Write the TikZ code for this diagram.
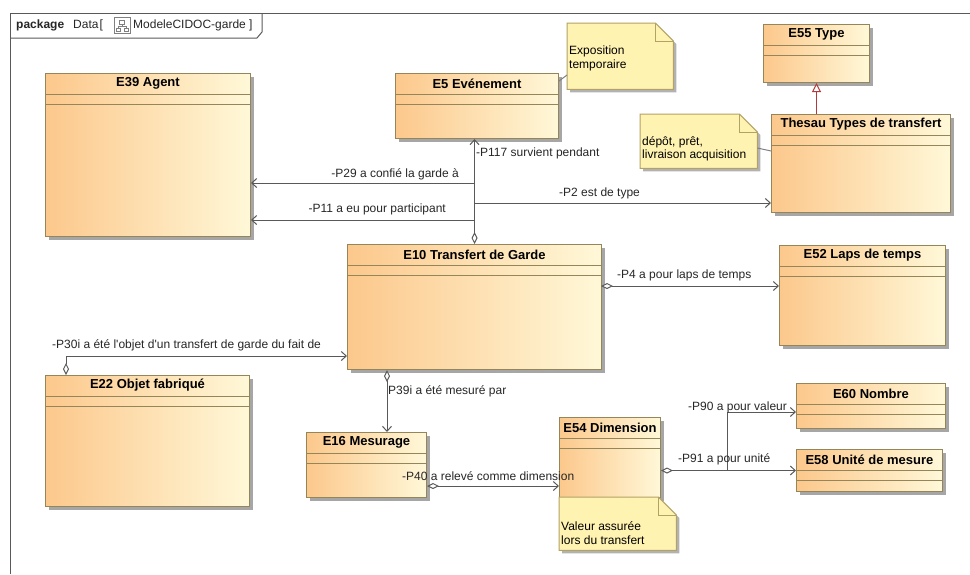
\documentclass[tikz,border=0pt]{standalone}
\usepackage{fontspec}
\setmainfont{Liberation Sans}
\usetikzlibrary{arrows.meta, shadows}

\definecolor{classdark}{HTML}{FCC88C}
\definecolor{classlight}{HTML}{FFF8D8}
\definecolor{classborder}{HTML}{958659}
\definecolor{notefill}{HTML}{FFF3B2}
\definecolor{noteborder}{HTML}{B3A266}
\definecolor{linkgray}{HTML}{595959}
\definecolor{genred}{HTML}{B23A3A}

\tikzstyle{umlclass} = [rectangle, anchor=north west, inner sep=0pt, draw=classborder, line width=1pt, left color=classdark, right color=classlight, drop shadow={shadow xshift=3pt, shadow yshift=-3pt, fill=black!35, opacity=1}]
\tikzstyle{classtitle} = [font=\fontsize{13}{15}\selectfont\bfseries, inner sep=0pt]
\tikzstyle{classline} = [draw=classborder, line width=1pt]
\tikzstyle{umlnote} = [rectangle, anchor=north west, inner sep=0pt]
\tikzstyle{notetext} = [font=\fontsize{12}{13.5}\selectfont, align=left, anchor=west, inner sep=0pt]
\tikzstyle{lbl} = [font=\fontsize{12}{14}\selectfont, inner sep=0pt, text=black!85]
\tikzstyle{link} = [draw=linkgray, line width=1pt]
\tikzstyle{assoc} = [link, {Diamond[open, fill=white, length=12pt, width=6pt]}-{Straight Barb[length=5pt, width=9pt]}]
\tikzstyle{navig} = [link, -{Straight Barb[length=5pt, width=9pt]}]
\tikzstyle{notelink} = [draw=gray, line width=1pt]
\tikzstyle{generalization} = [draw=genred, line width=1pt, -{Triangle[open, fill=white, length=9pt, width=9pt]}]
\tikzstyle{framel} = [draw=black!65, line width=1pt]

\newcommand{\notefold}[1]{%
  \filldraw[fill=notefill, draw=noteborder, line width=1pt, drop shadow={shadow xshift=3pt, shadow yshift=-3pt, fill=black!30, opacity=1}]
    (#1.north west) -- ([xshift=-18pt]#1.north east) -- ([yshift=-18pt]#1.north east) -- (#1.south east) -- (#1.south west) -- cycle;
  \draw[draw=noteborder, line width=1pt] ([xshift=-18pt]#1.north east) |- ([yshift=-18pt]#1.north east);}

\begin{document}
\begin{tikzpicture}[x=1pt, y=-1pt]
  \useasboundingbox (0,0) rectangle (970,574);

  % package frame
  \draw[framel] (970,13) -- (10,13) -- (10,574);
  \draw[framel] (10,38) -- (257,38) -- (262,32) -- (262,13);
  \node (tab-l) [lbl, anchor=west] at (16,25) {\textbf{package}\hspace{9pt}Data\hspace{1pt}[};
  \node (tab-r) [lbl, anchor=west] at (133,25) {ModeleCIDOC-garde ]};
  \draw[gray, line width=0.8pt] (114,17) rectangle (130,33);
  \draw[gray, line width=0.6pt] (119.5,20) rectangle (124.5,24) (116,28) rectangle (120,31) (124,28) rectangle (128,31)
    (122,24) -- (122,26) (118,26) -- (126,26) (118,26) -- (118,28) (126,26) -- (126,28);

  % classes
  \foreach \n/\x/\y/\w/\h/\t in {agent/45/73/205/163/E39 Agent,
      event/395/73/163/65/E5 Evénement,
      type/763/24/106/58/E55 Type,
      thes/771/114/179/98/Thesau Types de transfert,
      trans/347/244/254/125/E10 Transfert de Garde,
      laps/779/245/166/100/E52 Laps de temps,
      objet/45/375/204/131/E22 Objet fabriqué,
      mesur/306/432/120/65/E16 Mesurage,
      dim/559/417/101/80/E54 Dimension,
      nombre/796/383/149/45/E60 Nombre,
      unite/796/449/146/42/E58 Unité de mesure} {
    \node (\n) [umlclass, minimum width=\w, minimum height=\h] at (\x,\y) {};
    \draw[classline] ([yshift=-21pt]\n.north west) -- ([yshift=-21pt]\n.north east);
    \draw[classline] ([yshift=-31pt]\n.north west) -- ([yshift=-31pt]\n.north east);
    \node (\n-t) [classtitle] at ([yshift=-10.5pt]\n.north) {\t};
  }

  % notes
  \node (expo) [umlnote, minimum width=106, minimum height=66] at (567,23) {};
  \node (depot) [umlnote, minimum width=117, minimum height=54] at (640,114) {};
  \node (valeur) [umlnote, minimum width=117, minimum height=53] at (559,497) {};
  \foreach \n in {expo,depot,valeur} {\notefold{\n}}
  \node (expo-t) [notetext] at (569,58.5) {Exposition\\temporaire};
  \node (depot-t) [notetext] at (642,149) {dépôt, prêt,\\livraison acquisition};
  \node (valeur-t) [notetext] at (561,533) {Valeur assurée\\lors du transfert};
  \draw[notelink] ([yshift=-8pt]event.north east) -- ([yshift=-52pt]expo.north west);
  \draw[notelink] ([yshift=-34pt]depot.north east) -- ([yshift=-37pt]thes.north west);

  % associations
  \coordinate (j29) at (474,183);
  \coordinate (j2) at (474,203);
  \coordinate (j11) at (474,220);
  \coordinate (p4) at (601,286);
  \coordinate (p30) at (66,356);
  \coordinate (p39) at (387,400);
  \coordinate (p40) at (500,486);
  \coordinate (p90) at (727,412);

  \draw[assoc] (trans.north) -- (trans.north |- event.south);
  \draw[navig] (j29) -- (j29 -| agent.east);
  \draw[navig] (j11) -- (j11 -| agent.east);
  \draw[navig] (j2) -- (j2 -| thes.west);
  \draw[assoc] (p4) -- (p4 -| laps.west);
  \draw[assoc] (p30 |- objet.north) -- (p30) -- (p30 -| trans.west);
  \draw[assoc] (p39 |- trans.south) -- (p39 |- mesur.north);
  \draw[assoc] (p40 -| mesur.east) -- (p40 -| dim.west);
  \draw[assoc] (dim.east |- unite.west) -- (unite.west);
  \draw[navig] (p90 |- unite.west) -- (p90) -- (p90 -| nombre.west);
  \draw[generalization] (type.south |- thes.north) -- (type.south);

  % role labels
  \node (l117) [lbl, anchor=west] at (476,153) {-P117 survient pendant};
  \node (l29) [lbl, anchor=east] at (459,174) {-P29 a confié la garde à};
  \node (l11) [lbl, anchor=east] at (446,209) {-P11 a eu pour participant};
  \node (l2) [lbl, anchor=west] at (559,193) {-P2 est de type};
  \node (l4) [lbl, anchor=west] at (617,275) {-P4 a pour laps de temps};
  \node (l30) [lbl, anchor=west] at (52,345) {-P30i a été l\textquotesingle objet d\textquotesingle un transfert de garde du fait de};
  \node (l39) [lbl, anchor=west] at (388,391) {P39i a été mesuré par};
  \node (l40) [lbl, anchor=west] at (402,476) {-P40 a relevé comme dimension};
  \node (l91) [lbl, anchor=west] at (678,459) {-P91 a pour unité};
  \node (l90) [lbl, anchor=west] at (688,407) {-P90 a pour valeur};
\end{tikzpicture}
\end{document}
